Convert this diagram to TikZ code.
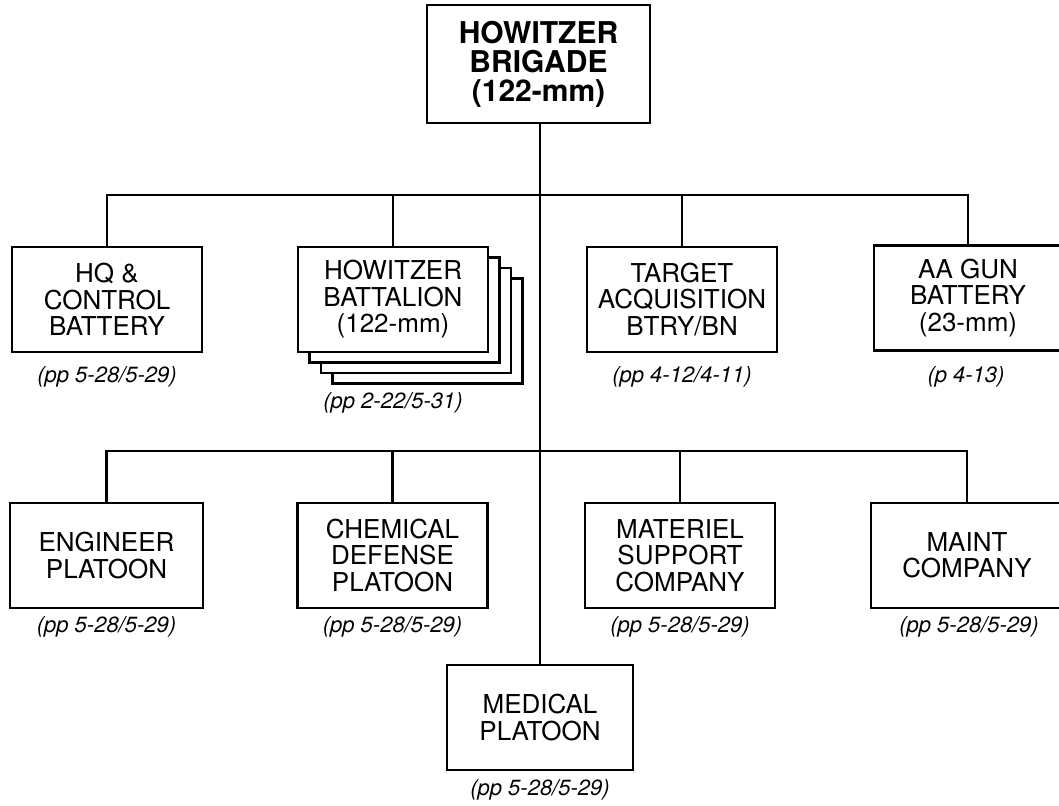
\documentclass[tikz,border=0pt]{standalone}
\usepackage{fontspec}
\setmainfont{TeX Gyre Heros}
\usetikzlibrary{positioning,calc}

\begin{document}
\begin{tikzpicture}[
  x=1pt,y=-1pt,
  line width=2.3pt,
  unit/.style={draw,fill=white,align=center,minimum width=190pt,
               minimum height=105pt,inner sep=2pt,
               font=\fontsize{26}{26.5}\selectfont},
  hqbox/.style={draw,fill=white,align=center,minimum width=223pt,
               minimum height=118pt,inner sep=2pt,
               font=\bfseries\fontsize{30}{29}\selectfont},
  ref/.style={font=\itshape\fontsize{22}{22}\selectfont,inner sep=0pt}
]
\useasboundingbox (0,0) rectangle (1059,805);
% top
\node[hqbox] (brigade) at (538.5,64) {HOWITZER\\BRIGADE\\(122-mm)};
% first row
\node[unit] (hq) at (107,299.5) {HQ \&\\CONTROL\\BATTERY};
\node[unit] (bn3) at (393+34.5,299.5+31.5) {};
\node[unit] (bn2) at (393+23,299.5+21) {};
\node[unit] (bn1) at (393+11.5,299.5+10.5) {};
\node[unit] (bn) at (393,299.5) {HOWITZER\\BATTALION\\(122-mm)};
\node[unit] (target) at (682,299.5) {TARGET\\ACQUISITION\\BTRY/BN};
\node[unit,minimum width=188pt] (aa) at (968,298) {AA GUN\\BATTERY\\(23-mm)};
\node[ref] (hqref) at (107,377) {(pp 5-28/5-29)};
\node[ref] (bnref) at (393,403) {(pp 2-22/5-31)};
\node[ref] (targetref) at (682,377) {(pp 4-12/4-11)};
\node[ref] (aaref) at (966,377) {(p 4-13)};
% second row
\node[unit,minimum width=193pt] (engr) at (106.5,555.5) {ENGINEER\\PLATOON};
\node[unit] (chem) at (392.5,555.5) {CHEMICAL\\DEFENSE\\PLATOON};
\node[unit] (mat) at (680,555.5) {MATERIEL\\SUPPORT\\COMPANY};
\node[unit,minimum width=192pt] (maint) at (967,555.5) {MAINT\\COMPANY};
\node[unit,minimum width=186pt] (med) at (540,717.5) {MEDICAL\\PLATOON};
\node[ref] (engrref) at (106.5,627) {(pp 5-28/5-29)};
\node[ref] (chemref) at (392.5,627) {(pp 5-28/5-29)};
\node[ref] (matref) at (680,627) {(pp 5-28/5-29)};
\node[ref] (maintref) at (969,627) {(pp 5-28/5-29)};
\node[ref] (medref) at (540,790) {(pp 5-28/5-29)};
% lines
\coordinate (bus1) at (540,195);
\coordinate (bus2) at (540,451);
\draw (brigade.south -| med.north) -- (med.north);
\draw (hq.north) |- (bus1) -| (aa.north);
\draw (bn.north) -- (bn.north |- bus1);
\draw (target.north) -- (target.north |- bus1);
\draw (engr.north) |- (bus2) -| (maint.north);
\draw (chem.north) -- (chem.north |- bus2);
\draw (mat.north) -- (mat.north |- bus2);
\end{tikzpicture}
\end{document}
